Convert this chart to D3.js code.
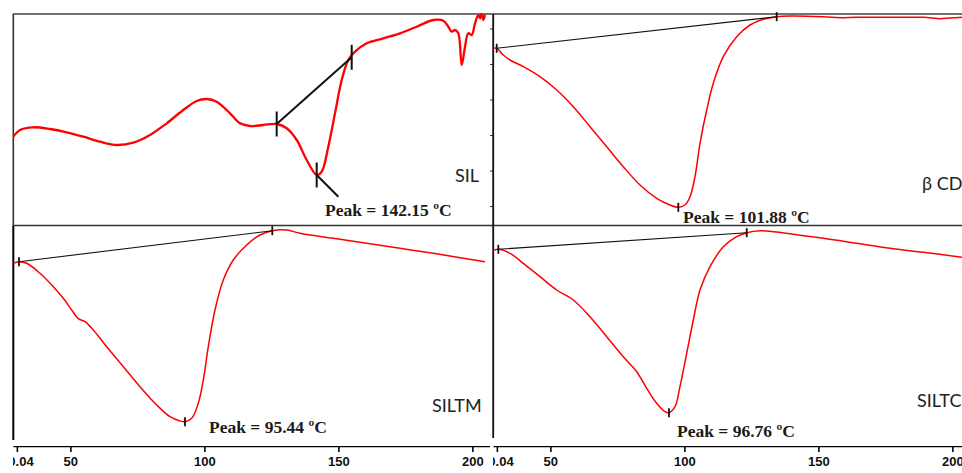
<!DOCTYPE html>
<html><head><meta charset="utf-8">
<script src="https://cdn.jsdelivr.net/npm/d3@7"></script>
<style>body{margin:0;background:#fff;overflow:hidden}</style>
</head><body><svg id="c" width="962" height="473"></svg>
<script>
// ---- data (temperature in °C, heat flow in arbitrary units) ----
const tickValues = [30.04, 50, 100, 150, 200];
const tickLabels = ["30.04", "50", "100", "150", "200"];
const panelNames = ["SIL", "β CD", "SILTM", "SILTC"];
const peakLabels = ["Peak = 142.15 ºC", "Peak = 101.88 ºC", "Peak = 95.44 ºC", "Peak = 96.76 ºC"];

const silT = [28.7,31.21,36.17,42.41,48.64,54.83,61.06,67.29,73.49,79.72,85.95,92.14,97.14,100.88,104.61,109.57,113.3,117.03,121.99,126.99,130.73,134.46,138.19,141.92,143.79,146.25,148.75,151.25,153.71,156.21,160.58,166.77,173.0,179.23,185.43,189.16,191.03,192.3,193.53,194.76,196.03,197.26,198.49,199.76,201.0,202.24,202.86,203.5,204.09,204.72];
const silHF = [88.3,95,97.7,96,92.7,88.3,83.3,80,82.3,90,101.7,115,124,126,123.3,111.7,101.7,99,100,101,96.7,85,65,50,53.3,78.3,111.7,145,165,173.3,181.7,186.7,191.7,198.3,205,204.3,198.3,193.3,195,191.7,160,178.3,191.7,190,201.7,210,206.7,211.7,205,210];

const bcdT = [28.71,29.98,32.44,34.94,39.91,46.14,52.37,58.56,64.79,71.03,77.22,83.45,89.68,94.64,97.74,100.24,102.11,103.97,105.84,108.34,110.8,114.53,119.53,124.5,129.46,134.46,139.42,151.85,158.08,164.31,176.74,189.16,195.4,199.13,203.6];
const bcdHF = [176.7,176.7,170,165,158.3,148.3,135,118.3,98.3,78.3,58.3,40,26.7,20,17.7,20,28.3,48.3,81.7,115,141.7,168.3,188.3,200,205.7,208.3,209,208.3,207.3,207.7,207.7,207.7,206.3,207,207.7];

const siltmT = [28.71,30.84,33.71,38.67,43.64,47.37,50.5,52.97,55.47,58.56,63.56,69.76,75.99,82.22,87.18,90.91,92.78,95.28,97.74,99.61,101.47,103.97,107.07,110.8,115.8,120.76,125.35,130.73,135.69,148.12,160.58,173.01,185.43,204.72];
const siltmHF = [182.7,184.3,182.7,172.7,159.3,147.7,136,127.3,124.3,116,99.3,79.3,59.3,41,29.3,25,24.3,27.7,42.7,66,99.3,136,166,186,201,211,215.3,216,212.7,207.7,202.7,197.7,192.7,184.3];

const siltcT = [28.71,30.58,34.94,39.91,46.14,52.37,58.56,64.79,71.03,77.22,82.22,85.95,89.68,92.78,94.27,96.51,98.37,100.87,103.34,105.84,109.57,114.53,119.53,123.27,128.23,133.19,151.85,164.31,176.74,189.16,203.6];
const siltcHF = [195.3,196.7,192.7,182.7,169.3,156,146,129.3,109.3,89.3,74.3,57.7,42.7,34.3,33.3,39.3,59.3,92.7,126,156,179.3,199.3,209.3,213.3,215.3,214.3,207.7,202.7,197.7,193.7,188.7];

// baseline / tangent construction points and peak markers
const onsetT = [126.99, 29.98, 30.84, 30.58];
const onsetHF = [101, 176.7, 184.3, 196.7];
const endT = [154.98, 134.46, 125.35, 123.27];
const endHF = [167.7, 208.3, 215.3, 213.3];
const peakT = [141.92, 97.74, 92.78, 94.27];
const peakHF = [50, 17.7, 24.3, 33.3];
const silLeaderT = [141.92, 150.0];
const silLeaderHF = [50, 28.3];
const bcdYTicks = [19, 54.5, 90, 125.5, 161, 196.5];

// ---- layout ----
const svg = d3.select("#c");
const pxPerDeg = 2.68, tMin = 28.6;
const panels = [
  {x0:13, x1:490, yTop:14, yBot:225, ymax:211, T:silT, H:silHF, lw:2.3},
  {x0:493, x1:962, yTop:14, yBot:225, ymax:211, T:bcdT, H:bcdHF, lw:1.5},
  {x0:13, x1:490, yTop:226, yBot:446, ymax:220, T:siltmT, H:siltmHF, lw:1.5, xaxis:true},
  {x0:493, x1:962, yTop:226, yBot:446, ymax:220, T:siltcT, H:siltcHF, lw:1.5, xaxis:true}
];
const nameMeta = [{x:455,y:182},{x:922,y:190},{x:432,y:412},{x:917,y:407}];
const peakMeta = [{x:325,y:216},{x:683,y:223},{x:209,y:433},{x:677,y:437}];

const defs = svg.append("defs");
panels.forEach((p,i)=>{
  p.x = d3.scaleLinear().domain([tMin, tMin + (p.x1-p.x0)/pxPerDeg]).range([p.x0, p.x1]);
  p.y = d3.scaleLinear().domain([0, p.ymax]).range([p.yBot, p.yTop]);
  defs.append("clipPath").attr("id","clip"+i).append("rect")
    .attr("x",p.x0).attr("y",p.yTop-1).attr("width",p.x1-p.x0).attr("height",p.yBot-p.yTop+1);
  defs.append("clipPath").attr("id","lclip"+i).append("rect")
    .attr("x",p.x0).attr("y",p.yBot).attr("width",p.x1-p.x0).attr("height",473-p.yBot);
});

// frame lines
svg.append("line").attr("x1",13).attr("x2",962).attr("y1",14).attr("y2",14).attr("stroke","#444").attr("stroke-width",1.6);
svg.append("line").attr("x1",13).attr("x2",962).attr("y1",225.5).attr("y2",225.5).attr("stroke","#333").attr("stroke-width",1.4);
svg.append("line").attr("x1",13.3).attr("x2",13.3).attr("y1",14).attr("y2",226).attr("stroke","#333").attr("stroke-width",1.6);
svg.append("line").attr("x1",13.3).attr("x2",13.3).attr("y1",226).attr("y2",440).attr("stroke","#000").attr("stroke-width",2);
svg.append("line").attr("x1",493.2).attr("x2",493.2).attr("y1",14).attr("y2",438).attr("stroke","#111").attr("stroke-width",1.8);

// y ticks of beta CD panel
const yAx = svg.append("g").attr("transform","translate(493.2,0)")
  .call(d3.axisLeft(panels[1].y).tickValues(bcdYTicks).tickSize(3).tickFormat(""));
yAx.select(".domain").remove();
yAx.selectAll("line").attr("stroke","#222").attr("stroke-width",1);

// x axes
panels.forEach((p,i)=>{
  if(!p.xaxis) return;
  const wrap = svg.append("g").attr("clip-path",`url(#lclip${i})`);
  const g = wrap.append("g").attr("transform",`translate(0,${p.yBot})`)
    .call(d3.axisBottom(p.x).tickValues(tickValues).tickFormat((d,k)=>tickLabels[k]).tickSize(6).tickSizeOuter(0).tickPadding(5));
  g.select(".domain").attr("stroke","#000").attr("stroke-width",1.6);
  g.selectAll(".tick line").attr("stroke","#000").attr("stroke-width",1.6);
  g.select(".tick line").attr("y1",-6);
  g.selectAll(".tick text").attr("font-family","Liberation Sans, Arial, sans-serif")
    .attr("font-weight","bold").attr("font-size","13px").attr("fill","#111");
});

// curves
const line = d3.line().curve(d3.curveCatmullRom.alpha(0.5));
panels.forEach((p,i)=>{
  const g = svg.append("g").attr("clip-path",`url(#clip${i})`);
  const pts = p.T.map((t,k)=>[p.x(t), p.y(p.H[k])]);
  g.append("path").attr("d",line(pts)).attr("fill","none").attr("stroke","#ff0000").attr("stroke-width",p.lw);
  const a=[p.x(onsetT[i]),p.y(onsetHF[i])], b=[p.x(endT[i]),p.y(endHF[i])], c=[p.x(peakT[i]),p.y(peakHF[i])];
  const bw = i===0?2:1.1, th = i===0?12.5:4.5, tw = i===0?2:1.8;
  svg.append("line").attr("x1",a[0]).attr("y1",a[1]).attr("x2",b[0]).attr("y2",b[1]).attr("stroke","#111").attr("stroke-width",bw);
  [a,b,c].forEach(q=>{
    svg.append("line").attr("x1",q[0]).attr("x2",q[0]).attr("y1",q[1]-th).attr("y2",q[1]+th).attr("stroke","#111").attr("stroke-width",tw);
  });
  if(i===0){
    svg.append("line").attr("x1",p.x(silLeaderT[0])).attr("y1",p.y(silLeaderHF[0]))
      .attr("x2",p.x(silLeaderT[1])).attr("y2",p.y(silLeaderHF[1])).attr("stroke","#111").attr("stroke-width",2);
  }
  svg.append("text").attr("x",nameMeta[i].x).attr("y",nameMeta[i].y).text(panelNames[i])
    .attr("font-family","Lato, 'Open Sans', sans-serif").attr("font-size","18px").attr("fill","#222");
  svg.append("text").attr("x",peakMeta[i].x).attr("y",peakMeta[i].y).text(peakLabels[i])
    .attr("font-family","'Liberation Serif', 'Times New Roman', serif").attr("font-weight","bold")
    .attr("font-size","17.5px").attr("fill","#1a1a1a");
});
</script></body></html>
